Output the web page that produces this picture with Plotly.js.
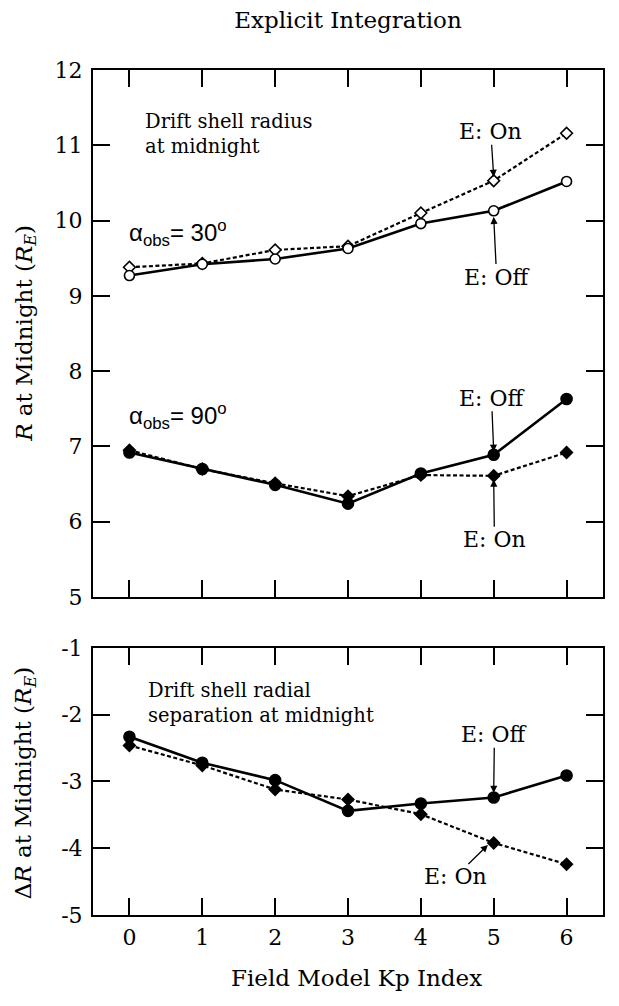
<!DOCTYPE html>
<html>
<head>
<meta charset="utf-8">
<script src="https://cdn.plot.ly/plotly-3.0.1.min.js"></script>
<style>html,body{margin:0;padding:0;background:#fff;}#chart{width:619px;height:1006px;}</style>
</head>
<body>
<div id="chart"></div>
<script>
// ---- data ----
const kp = [0, 1, 2, 3, 4, 5, 6];
const r30Off = [9.27, 9.42, 9.49, 9.63, 9.96, 10.13, 10.52];
const r30On  = [9.38, 9.43, 9.61, 9.66, 10.10, 10.53, 11.16];
const r90Off = [6.92, 6.70, 6.49, 6.24, 6.64, 6.89, 7.63];
const r90On  = [6.95, 6.70, 6.51, 6.34, 6.62, 6.61, 6.92];
const dROff  = [-2.33, -2.72, -2.98, -3.44, -3.33, -3.24, -2.91];
const dROn   = [-2.46, -2.76, -3.12, -3.27, -3.49, -3.92, -4.24];
const xTickVals = [0, 1, 2, 3, 4, 5, 6];
const xTickText = ['0', '1', '2', '3', '4', '5', '6'];
const topTickVals = [5, 6, 7, 8, 9, 10, 11, 12];
const topTickText = ['5', '6', '7', '8', '9', '10', '11', '12'];
const botTickVals = [-5, -4, -3, -2, -1];
const botTickText = ['-5', '-4', '-3', '-2', '-1'];

const SERIF = '"DejaVu Serif", "Liberation Serif", serif';
const K = '#000';

function solid(x, y, xa, ya, sym, fill, size) {
  return {x: x, y: y, xaxis: xa, yaxis: ya, type: 'scatter', mode: 'lines+markers',
    line: {color: K, width: 2.6},
    marker: {symbol: sym, size: size, color: fill, line: {color: K, width: 1.6}},
    showlegend: false, hoverinfo: 'skip'};
}
function dashed(x, y, xa, ya, sym, fill, size) {
  return {x: x, y: y, xaxis: xa, yaxis: ya, type: 'scatter', mode: 'lines+markers',
    line: {color: K, width: 2.2, dash: '4px,2.5px'},
    marker: {symbol: sym, size: size, color: fill, line: {color: K, width: 1.6}},
    showlegend: false, hoverinfo: 'skip'};
}

const data = [
  dashed(kp, r30On, 'x2', 'y2', 'diamond', '#fff', 9),
  solid(kp, r30Off, 'x2', 'y2', 'circle', '#fff', 10),
  dashed(kp, r90On, 'x2', 'y2', 'diamond', K, 9),
  solid(kp, r90Off, 'x2', 'y2', 'circle', K, 11),
  dashed(kp, dROn, 'x', 'y', 'diamond', K, 9),
  solid(kp, dROff, 'x', 'y', 'circle', K, 11)
];

const tickFont = {family: SERIF, size: 22, color: K};
const axCommon = {
  showline: true, linewidth: 2, linecolor: K, mirror: 'allticks',
  ticks: 'inside', ticklen: 17, tickwidth: 2, tickcolor: K,
  showgrid: false, zeroline: false, tickmode: 'array',
  tickfont: tickFont
};

function txt(xref, yref, x, y, text, opts) {
  return Object.assign({xref: xref, yref: yref, x: x, y: y, text: text, showarrow: false,
    font: {family: SERIF, size: 22, color: K}, xanchor: 'center', yanchor: 'middle'}, opts || {});
}
// label centred at (ax, ay) with an arrow from its box edge to (x, y)
function arrowLabel(xref, yref, text, ax, ay, x, y) {
  return {xref: xref, yref: yref, x: x, y: y, axref: xref, ayref: yref, ax: ax, ay: ay,
    text: text, font: {family: SERIF, size: 22, color: K},
    showarrow: true, arrowhead: 2, arrowsize: 1.1, arrowwidth: 1.3, arrowcolor: K,
    standoff: 0, startstandoff: 0, borderpad: 0};
}

const alphaFont = {family: '"Liberation Sans", Arial, sans-serif', size: 24, color: K};
const noteFont = {family: SERIF, size: 19.5, color: K};
const axTitleFont = {family: SERIF, size: 23, color: K};

const layout = {
  width: 619, height: 1006,
  margin: {l: 93, r: 16, t: 70, b: 91},
  paper_bgcolor: '#fff', plot_bgcolor: '#fff',
  title: {text: 'Explicit Integration', font: {family: SERIF, size: 23, color: K},
    x: 0.5, xref: 'paper', xanchor: 'center', y: 0.980, yref: 'container', yanchor: 'middle'},
  xaxis: Object.assign({}, axCommon, {domain: [0, 1], anchor: 'y', range: [-0.5, 6.5],
    tickvals: xTickVals, ticktext: xTickText, ticklabelstandoff: 2}),
  xaxis2: Object.assign({}, axCommon, {domain: [0, 1], anchor: 'y2', range: [-0.5, 6.5],
    tickvals: xTickVals, ticktext: xTickText, showticklabels: false}),
  yaxis: Object.assign({}, axCommon, {domain: [0, 0.316], anchor: 'x', range: [-5, -1],
    tickvals: botTickVals, ticktext: botTickText, ticklabelstandoff: 4}),
  yaxis2: Object.assign({}, axCommon, {domain: [0.3763, 1], anchor: 'x2', range: [5, 12],
    tickvals: topTickVals, ticktext: topTickText, ticklabelstandoff: 4}),
  annotations: [
    {xref: 'paper', yref: 'paper', x: 0.516, y: -0.0746, text: 'Field Model Kp Index', showarrow: false,
      xanchor: 'center', yanchor: 'middle', font: axTitleFont},
    {xref: 'paper', yref: 'paper', x: -0.133, y: 0.688, textangle: -90, showarrow: false,
      text: '<i>R</i> at Midnight (<i>R<sub>E</sub></i>)', xanchor: 'center', yanchor: 'middle', font: axTitleFont},
    {xref: 'paper', yref: 'paper', x: -0.133, y: 0.156, textangle: -90, showarrow: false,
      text: 'Δ<i>R</i> at Midnight (<i>R<sub>E</sub></i>)', xanchor: 'center', yanchor: 'middle', font: axTitleFont},
    txt('x2', 'y2', 0.18, 11.15, 'Drift shell radius<br>at midnight', {xanchor: 'left', align: 'left', font: noteFont}),
    txt('x2', 'y2', -0.04, 9.84, 'α<sub>obs</sub>= 30<sup>o</sup>', {xanchor: 'left', font: alphaFont}),
    arrowLabel('x2', 'y2', 'E: On', 4.96, 11.18, 5, 10.58),
    arrowLabel('x2', 'y2', 'E: Off', 5.04, 9.25, 5, 10.05),
    txt('x2', 'y2', -0.04, 7.40, 'α<sub>obs</sub>= 90<sup>o</sup>', {xanchor: 'left', font: alphaFont}),
    arrowLabel('x2', 'y2', 'E: Off', 4.97, 7.64, 5, 6.93),
    arrowLabel('x2', 'y2', 'E: On', 5.01, 5.76, 5, 6.56),
    txt('x', 'y', 0.23, -1.82, 'Drift shell radial<br>separation at midnight', {xanchor: 'left', align: 'left', font: noteFont}),
    arrowLabel('x', 'y', 'E: Off', 5.01, -2.30, 5, -3.17),
    arrowLabel('x', 'y', 'E: On', 4.47, -4.43, 4.92, -3.95)
  ]
};

Plotly.newPlot('chart', data, layout, {displayModeBar: false, staticPlot: true});
</script>
</body>
</html>
